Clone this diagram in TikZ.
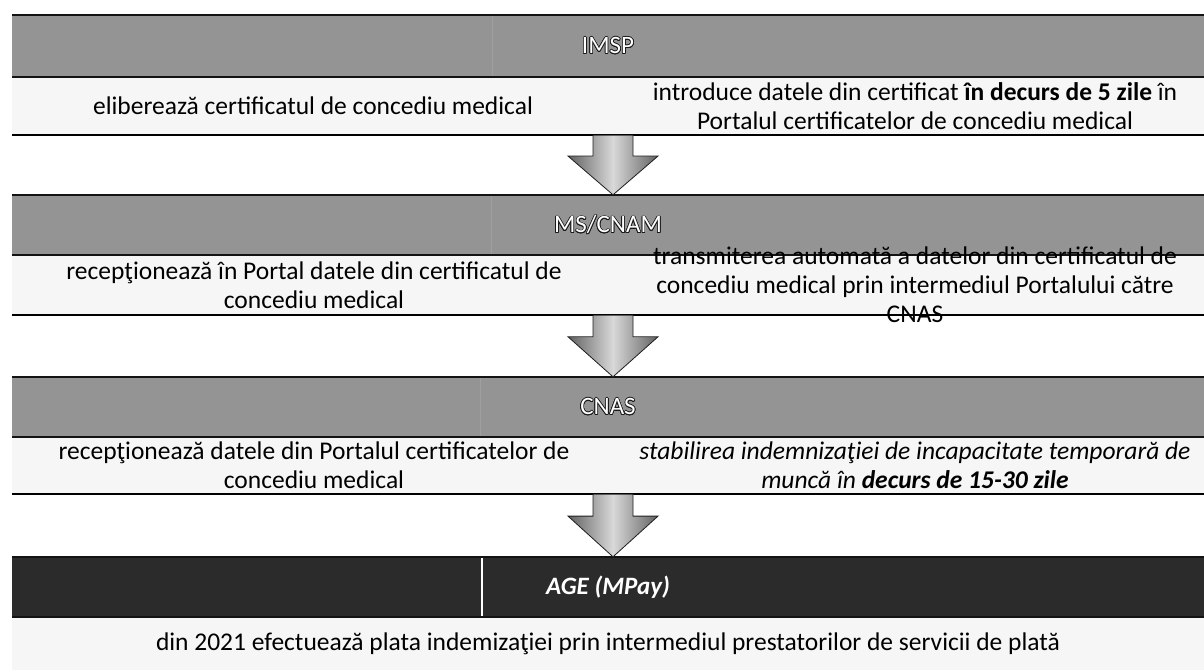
\documentclass[tikz,border=0pt]{standalone}
\usepackage{fontspec}
\setmainfont{Carlito}
\usepackage[copies]{contour}
\contourlength{0.7pt}
\usetikzlibrary{calc}
\definecolor{bandgray}{gray}{0.58}
\definecolor{banddark}{gray}{0.17}
\definecolor{rowbg}{gray}{0.965}
\definecolor{arrowdark}{gray}{0.38}
\definecolor{arrowlight}{gray}{0.85}
\newcommand\flowarrow[2]{%
  \shadedraw[flowarrowstyle] let \p1=(#1.south), \p2=(#2.north), \p3=($(#1.south)!0.35!(#2.north)$) in
    (593pt,\y1) -- (633pt,\y1) -- (633pt,\y3) -- (658pt,\y3) -- (613pt,\y2) -- (568pt,\y3) -- (593pt,\y3) -- cycle;}
\begin{document}
\begin{tikzpicture}[x=1pt,y=-1pt,
  band/.style={minimum width=1192pt, inner sep=0pt, fill=bandgray, text=white,
    font=\fontsize{25}{29}\selectfont},
  darkband/.style={band, fill=banddark, font=\fontsize{25}{29}\selectfont\bfseries\itshape},
  rowbox/.style={minimum width=1192pt, inner sep=0pt, fill=rowbg},
  celltext/.style={font=\fontsize{25.5}{29}\selectfont, align=center, inner sep=0pt, text=black},
  rowline/.style={line width=2pt, black},
  bandline/.style={line width=1.6pt, gray!15!black},
  divider/.style={line width=1pt, gray!75},
  flowarrowstyle/.style={left color=arrowdark, right color=arrowdark, middle color=arrowlight,
    draw=gray!25!black, line width=0.8pt}
]
\useasboundingbox (0,0) rectangle (1204,670);

% rows
\node[rowbox, minimum height=58pt] (r1) at (608,106) {};
\node[rowbox, minimum height=60pt] (r2) at (608,285) {};
\node[rowbox, minimum height=57pt] (r3) at (608,465.5) {};
\node[rowbox, minimum height=53pt] (r4) at (608,643.5) {};

% bands
\node[band, minimum height=62pt] (b1) at (608,46) {};
\node[band, minimum height=60pt] (b2) at (608,225) {};
\node[band, minimum height=60pt] (b3) at (608,407) {};
\node[darkband, minimum height=60pt] (b4) at (608,587) {};

\coordinate (d1) at (492,0);
\coordinate (d2) at (491,0);
\coordinate (d3) at (480,0);
\coordinate (d4) at (482,0);
\draw[divider] (b1.north -| d1) -- (b1.south -| d1);
\draw[divider] (b2.north -| d2) -- (b2.south -| d2);
\draw[divider] (b3.north -| d3) -- (b3.south -| d3);
\draw[line width=1.2pt, white] (b4.north -| d4) -- (b4.south -| d4);

\foreach \b in {b1,b2,b3,b4}{
  \draw[bandline] (\b.north west) -- (\b.north east);
  \draw[bandline] (\b.south west) -- (\b.south east);
}
\foreach \r in {r1,r2,r3}{
  \draw[rowline] (\r.south west) -- (\r.south east);
}

% band labels
\node[band, fill=none, minimum width=0pt] (l1) at (b1.center) {\contour{gray!20!black}{IMSP}};
\node[band, fill=none, minimum width=0pt] (l2) at (b2.center) {\contour{gray!20!black}{MS/CNAM}};
\node[band, fill=none, minimum width=0pt] (l3) at (b3.center) {\contour{gray!20!black}{CNAS}};
\node[darkband, fill=none, minimum width=0pt] (l4) at (b4.center) {AGE (MPay)};

% arrows
\flowarrow{r1}{b2}
\flowarrow{r2}{b3}
\flowarrow{r3}{b4}

% cell texts
\node[celltext] (t1l) at (313,106) {eliberează certificatul de concediu medical};
\node[celltext] (t1r) at (915,106) {introduce datele din certificat \textbf{în decurs de 5 zile} în\\Portalul certificatelor de concediu medical};
\node[celltext] (t2l) at (314,285) {recepţionează în Portal datele din certificatul de\\concediu medical};
\node[celltext] (t2r) at (915,285) {transmiterea automată a datelor din certificatul de\\concediu medical prin intermediul Portalului către\\CNAS};
\node[celltext] (t3l) at (314,465) {recepţionează datele din Portalul certificatelor de\\concediu medical};
\node[celltext, font=\fontsize{25.5}{29}\selectfont\itshape] (t3r) at (915,465) {stabilirea indemnizaţiei de incapacitate temporară de\\muncă în \textbf{decurs de 15-30 zile}};
\node[celltext] (t4) at (608,644) {din 2021 efectuează plata indemizaţiei prin intermediul prestatorilor de servicii de plată};
\end{tikzpicture}
\end{document}
